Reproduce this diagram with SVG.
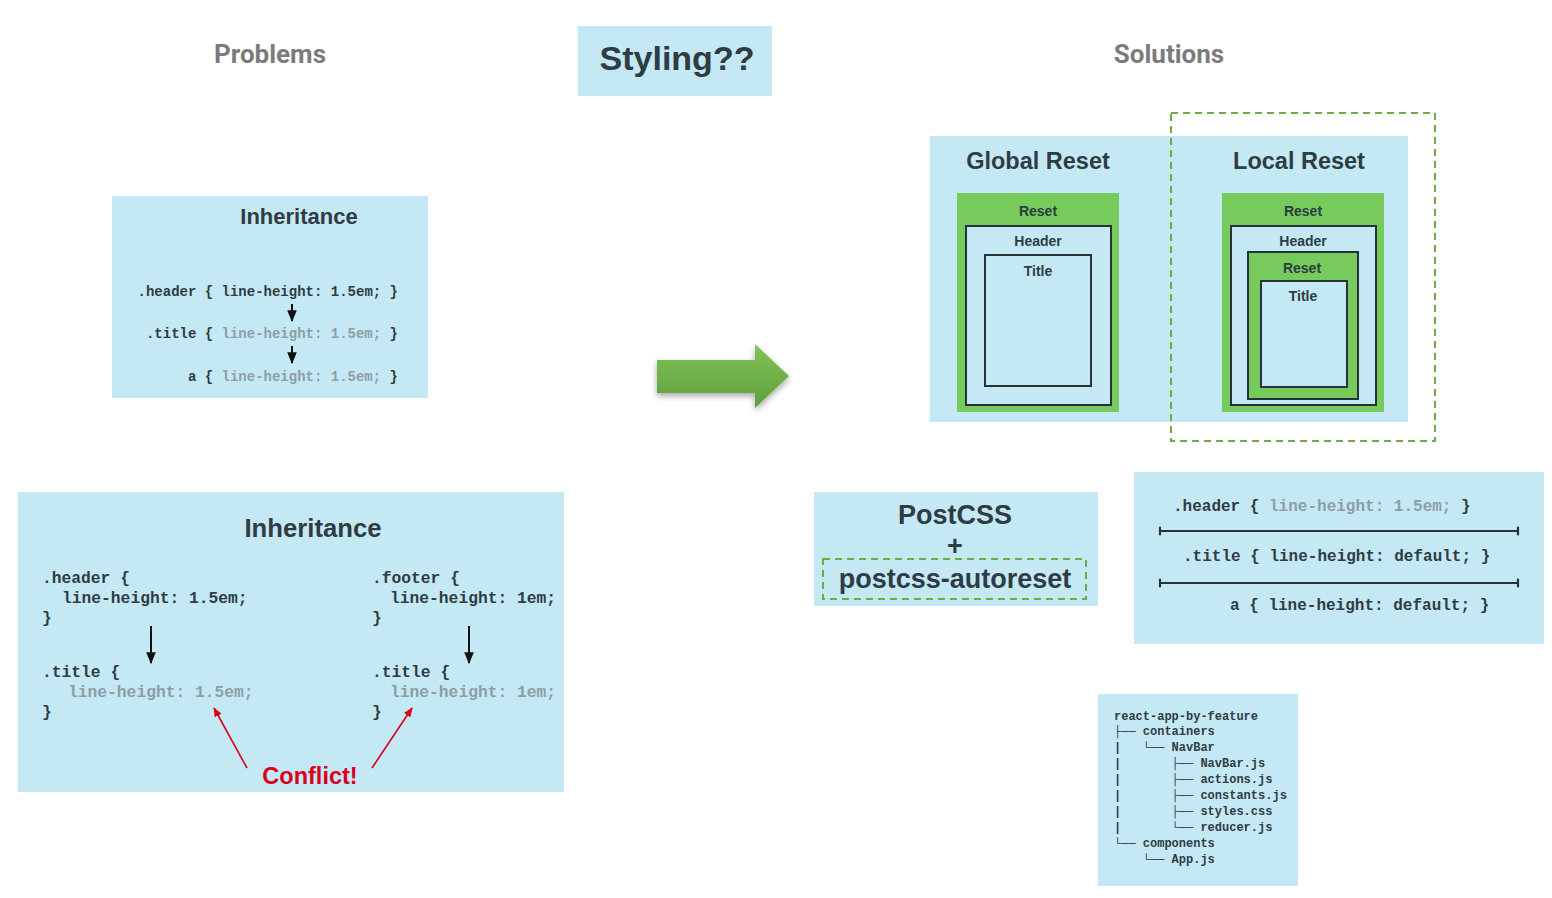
<svg xmlns="http://www.w3.org/2000/svg" width="1552" height="898" viewBox="0 0 1552 898">
<style>
.bg{fill:#c5e8f5}
.h{font-family:"Liberation Sans",Arial,sans-serif;font-weight:bold;fill:#2e3c43;text-anchor:middle}
.sec{font-family:Roboto,"Liberation Sans",sans-serif;font-weight:bold;fill:#7b7b7b;text-anchor:middle;font-size:26px}
.code{font-family:"Liberation Mono","DejaVu Sans Mono",monospace;font-weight:bold;fill:#2e3c43}
.pre{white-space:pre}
.g{fill:#8d9ea5}
.box{fill:#c5e8f5;stroke:#263238;stroke-width:2}
.grn{fill:#77cb5d}
.dash{fill:none;stroke:#6faa44;stroke-width:2;stroke-dasharray:7,5}
.ar{stroke:#111;stroke-width:2;fill:none}
.red{stroke:#d8001c;stroke-width:1.6;fill:none}
</style>
<defs>
<marker id="ab" viewBox="0 0 10 10" refX="9" refY="5" markerWidth="6" markerHeight="6" orient="auto"><path d="M0,1 L10,5 L0,9 Z" fill="#111"/></marker>
<marker id="ar" viewBox="0 0 10 10" refX="9" refY="5" markerWidth="6" markerHeight="6" orient="auto"><path d="M0,1 L10,5 L0,9 Z" fill="#d8001c"/></marker>
<marker id="tick" viewBox="0 0 4 10" refX="2" refY="5" markerWidth="3" markerHeight="6" orient="auto"><path d="M2,1 L2,9" stroke="#263238" stroke-width="2"/></marker>
<linearGradient id="gg" x1="0" y1="0" x2="0" y2="1"><stop offset="0" stop-color="#80c457"/><stop offset="1" stop-color="#5f9f3c"/></linearGradient>
<filter id="sh" x="-20%" y="-20%" width="140%" height="150%"><feDropShadow dx="0" dy="3" stdDeviation="3" flood-color="#000" flood-opacity="0.35"/></filter>
</defs>

<g id="labels">
<text class="sec" x="270" y="63">Problems</text>
<text class="sec" x="1169" y="63">Solutions</text>
</g>

<g id="styling">
<rect class="bg" x="578" y="26" width="194" height="70"/>
<text class="h" x="677" y="70" font-size="34" font-family="Roboto,'Liberation Sans',sans-serif">Styling??</text>
</g>

<g id="inheritance1">
<rect class="bg" x="112" y="196" width="316" height="202"/>
<text class="h" x="299" y="224" font-size="22">Inheritance</text>
<text class="code" font-size="14" x="398" y="296" text-anchor="end">.header { line-height: 1.5em; }</text>
<text class="code" font-size="14" x="398" y="338" text-anchor="end">.title { <tspan class="g">line-height: 1.5em;</tspan> }</text>
<text class="code" font-size="14" x="398" y="381" text-anchor="end">a { <tspan class="g">line-height: 1.5em;</tspan> }</text>
<line class="ar" x1="292" y1="304" x2="292" y2="321" marker-end="url(#ab)"/>
<line class="ar" x1="292" y1="346" x2="292" y2="363" marker-end="url(#ab)"/>
</g>

<g id="inheritance2">
<rect class="bg" x="18" y="492" width="546" height="300"/>
<text class="h" x="313" y="537" font-size="25.7">Inheritance</text>
<g class="code" font-size="16.3">
<text x="42" y="583">.header {</text>
<text x="62" y="603">line-height: 1.5em;</text>
<text x="42" y="623">}</text>
<text x="42" y="677">.title {</text>
<text x="68" y="697" class="g">line-height: 1.5em;</text>
<text x="42" y="717">}</text>
<text x="372" y="583">.footer {</text>
<text x="390" y="603">line-height: 1em;</text>
<text x="372" y="623">}</text>
<text x="372" y="677">.title {</text>
<text x="390" y="697" class="g">line-height: 1em;</text>
<text x="372" y="717">}</text>
</g>
<line class="ar" x1="151" y1="626" x2="151" y2="663" marker-end="url(#ab)"/>
<line class="ar" x1="469" y1="626" x2="469" y2="663" marker-end="url(#ab)"/>
<line class="red" x1="247" y1="768" x2="214" y2="708" marker-end="url(#ar)"/>
<line class="red" x1="372" y1="768" x2="412" y2="708" marker-end="url(#ar)"/>
<text x="310" y="784" font-family="'Liberation Sans',Arial,sans-serif" font-weight="bold" font-size="23.5" fill="#d8001c" text-anchor="middle">Conflict!</text>
</g>

<g id="bigArrow">
<path d="M657,360 L755,360 L755,344 L789,376 L755,408 L755,393 L657,393 Z" fill="url(#gg)" filter="url(#sh)"/>
</g>

<g id="resets">
<rect class="bg" x="930" y="136" width="478" height="286"/>
<text class="h" x="1038" y="169" font-size="23.5">Global Reset</text>
<rect class="grn" x="957" y="193" width="162" height="219"/>
<text class="h" x="1038" y="216" font-size="14">Reset</text>
<rect class="box" x="966" y="226" width="145" height="179"/>
<text class="h" x="1038" y="246" font-size="14">Header</text>
<rect class="box" x="985" y="255" width="106" height="131"/>
<text class="h" x="1038" y="276" font-size="14">Title</text>

<text class="h" x="1299" y="169" font-size="23.5">Local Reset</text>
<rect class="grn" x="1222" y="193" width="162" height="219"/>
<text class="h" x="1303" y="216" font-size="14">Reset</text>
<rect class="box" x="1231" y="226" width="145" height="179"/>
<text class="h" x="1303" y="246" font-size="14">Header</text>
<rect x="1248" y="252" width="110" height="147" fill="#77cb5d" stroke="#263238" stroke-width="2"/>
<text class="h" x="1302" y="273" font-size="14">Reset</text>
<rect class="box" x="1261" y="281" width="86" height="106"/>
<text class="h" x="1303" y="301" font-size="14">Title</text>
<rect class="dash" x="1171" y="113" width="264" height="328"/>
</g>

<g id="postcss">
<rect class="bg" x="814" y="492" width="284" height="114"/>
<text class="h" x="955" y="524" font-size="27">PostCSS</text>
<text class="h" x="955" y="555" font-size="27">+</text>
<rect class="dash" x="823" y="559" width="263" height="40"/>
<text class="h" x="955" y="588" font-size="27">postcss-autoreset</text>
</g>

<g id="resetCode">
<rect class="bg" x="1134" y="472" width="410" height="172"/>
<g class="code" font-size="16">
<text x="1173" y="511">.header { <tspan class="g">line-height: 1.5em;</tspan> }</text>
<text x="1183" y="561">.title { line-height: default; }</text>
<text x="1230" y="610">a { line-height: default; }</text>
</g>
<line x1="1160" y1="531" x2="1518" y2="531" stroke="#263238" stroke-width="1.8" marker-start="url(#tick)" marker-end="url(#tick)"/>
<line x1="1160" y1="583" x2="1518" y2="583" stroke="#263238" stroke-width="1.8" marker-start="url(#tick)" marker-end="url(#tick)"/>
</g>

<g id="tree">
<rect class="bg" x="1098" y="694" width="200" height="192"/>
<g class="code" font-size="12">
<text class="pre" x="1114" y="720">react-app-by-feature</text>
<text class="pre" x="1114" y="735">├── containers</text>
<text class="pre" x="1114" y="751">|   └── NavBar</text>
<text class="pre" x="1114" y="767">|       ├── NavBar.js</text>
<text class="pre" x="1114" y="783">|       ├── actions.js</text>
<text class="pre" x="1114" y="799">|       ├── constants.js</text>
<text class="pre" x="1114" y="815">|       ├── styles.css</text>
<text class="pre" x="1114" y="831">|       └── reducer.js</text>
<text class="pre" x="1114" y="847">└── components</text>
<text class="pre" x="1114" y="863">    └── App.js</text>
</g>
</g>
</svg>
